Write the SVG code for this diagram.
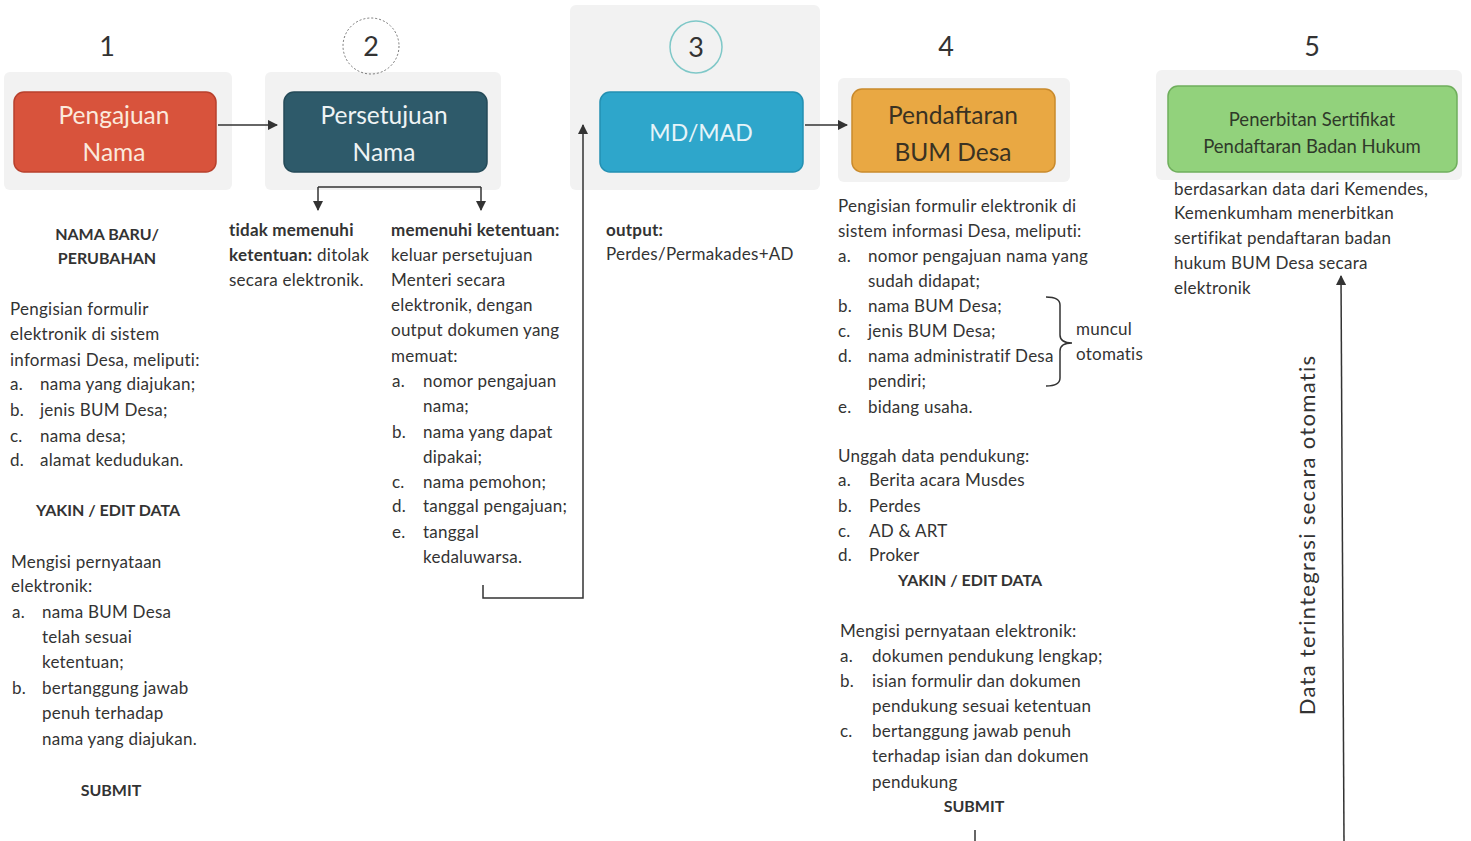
<svg xmlns="http://www.w3.org/2000/svg" width="1471" height="841" viewBox="0 0 1471 841">
<defs>
<style>
text{font-family:Lato,"Noto Sans","Liberation Sans",sans-serif;fill:#333}
.t{font-size:17px;letter-spacing:0.25px}
.b{font-size:17px;font-weight:bold;letter-spacing:0.2px}
.h{font-size:16px;font-weight:bold}
.num{font-size:27px;fill:#333}
.bx{font-size:24.5px;text-anchor:middle}
.halo{fill:#f2f2f2}
.ln{stroke:#333;stroke-width:1.5;fill:none}
</style>
<marker id="ah" viewBox="0 0 10 10" refX="9" refY="5" markerWidth="7" markerHeight="7" orient="auto-start-reverse">
<path d="M0,0 L10,5 L0,10 z" fill="#333"/>
</marker>
</defs>
<rect width="1471" height="841" fill="#fff"/>

<!-- halos -->
<rect class="halo" x="4" y="72" width="228" height="118" rx="6"/>
<rect class="halo" x="265" y="72" width="236" height="118" rx="6"/>
<rect class="halo" x="570" y="5" width="250" height="185" rx="6"/>
<rect class="halo" x="838" y="78" width="232" height="104" rx="6"/>
<rect class="halo" x="1156" y="70" width="306" height="110" rx="6"/>

<g id="node1">
<text class="num" x="107" y="56" text-anchor="middle">1</text>
<rect x="14" y="92" width="202" height="80" rx="10" fill="#d8533c" stroke="#b8402c" stroke-width="1.5"/>
<text class="bx" x="114" y="124" style="fill:#fbe9dc">Pengajuan</text>
<text class="bx" x="114" y="161" style="fill:#fbe9dc">Nama</text>
</g>

<g id="node2">
<circle cx="371" cy="46" r="28" fill="none" stroke="#777" stroke-width="1" stroke-dasharray="2 2"/>
<text class="num" x="371" y="56" text-anchor="middle">2</text>
<rect x="284" y="92" width="203" height="80" rx="10" fill="#2e5a6a" stroke="#244a58" stroke-width="1.5"/>
<text class="bx" x="384" y="124" style="fill:#eef3f4">Persetujuan</text>
<text class="bx" x="384" y="161" style="fill:#eef3f4">Nama</text>
</g>

<g id="node3">
<circle cx="696" cy="47" r="26" fill="none" stroke="#7fc8c8" stroke-width="1.5"/>
<text class="num" x="696" y="57" text-anchor="middle">3</text>
<rect x="600" y="92" width="203" height="80" rx="10" fill="#2ea6cb" stroke="#2390b2" stroke-width="1.5"/>
<text x="701" y="141" text-anchor="middle" style="font-size:23px;fill:#e6f4f9">MD/MAD</text>
</g>

<g id="node4">
<text class="num" x="946" y="56" text-anchor="middle">4</text>
<rect x="852" y="89" width="203" height="83" rx="10" fill="#e9a843" stroke="#c98a2c" stroke-width="1.5"/>
<text class="bx" x="953" y="124" style="fill:#3a3222">Pendaftaran</text>
<text class="bx" x="953" y="161" style="fill:#3a3222">BUM Desa</text>
</g>

<g id="node5">
<text class="num" x="1312" y="56" text-anchor="middle">5</text>
<rect x="1168" y="86" width="289" height="86" rx="10" fill="#92d27c" stroke="#6fae5c" stroke-width="1.5"/>
<text x="1312" y="126" text-anchor="middle" style="font-size:18.5px;fill:#2f3a2a">Penerbitan Sertifikat</text>
<text x="1312" y="153" text-anchor="middle" style="font-size:18.5px;fill:#2f3a2a">Pendaftaran Badan Hukum</text>
</g>

<g id="connectors">
<line class="ln" x1="218" y1="125" x2="277" y2="125" marker-end="url(#ah)"/>
<path class="ln" d="M318,187 H481"/>
<line class="ln" x1="318" y1="187" x2="318" y2="210" marker-end="url(#ah)"/>
<line class="ln" x1="481" y1="187" x2="481" y2="210" marker-end="url(#ah)"/>
<path class="ln" d="M483,585 V598 H583 V125" marker-end="url(#ah)"/>
<line class="ln" x1="805" y1="125" x2="847" y2="125" marker-end="url(#ah)"/>
<line class="ln" x1="1344" y1="841" x2="1341" y2="276" marker-end="url(#ah)"/>
<line class="ln" x1="975" y1="830" x2="975" y2="841"/>
<path class="ln" d="M1046,297 Q1060,297 1060,305 V335 Q1060,343 1072,343 Q1060,343 1060,351 V378 Q1060,386 1046,386"/>
</g>

<g id="col1">
<text class="h" x="107" y="240" text-anchor="middle">NAMA BARU/</text>
<text class="h" x="107" y="264" text-anchor="middle">PERUBAHAN</text>
<text class="t" x="10" y="315">Pengisian formulir</text>
<text class="t" x="10" y="340">elektronik di sistem</text>
<text class="t" x="10" y="366">informasi Desa, meliputi:</text>
<text class="t" x="10" y="390">a.</text><text class="t" x="40" y="390">nama yang diajukan;</text>
<text class="t" x="10" y="416">b.</text><text class="t" x="40" y="416">jenis BUM Desa;</text>
<text class="t" x="10" y="442">c.</text><text class="t" x="40" y="442">nama desa;</text>
<text class="t" x="10" y="466">d.</text><text class="t" x="40" y="466">alamat kedudukan.</text>
<text class="h" x="108" y="516" text-anchor="middle">YAKIN / EDIT DATA</text>
<text class="t" x="11" y="568">Mengisi pernyataan</text>
<text class="t" x="11" y="592">elektronik:</text>
<text class="t" x="12" y="618">a.</text><text class="t" x="42" y="618">nama BUM Desa</text>
<text class="t" x="42" y="643">telah sesuai</text>
<text class="t" x="42" y="668">ketentuan;</text>
<text class="t" x="12" y="694">b.</text><text class="t" x="42" y="694">bertanggung jawab</text>
<text class="t" x="42" y="719">penuh terhadap</text>
<text class="t" x="42" y="745">nama yang diajukan.</text>
<text class="h" x="111" y="796" text-anchor="middle">SUBMIT</text>
</g>

<g id="col2">
<text class="b" x="229" y="236">tidak memenuhi</text>
<text class="t" x="229" y="261"><tspan font-weight="bold">ketentuan:</tspan> ditolak</text>
<text class="t" x="229" y="286">secara elektronik.</text>
<text class="b" x="391" y="236">memenuhi ketentuan:</text>
<text class="t" x="391" y="261">keluar persetujuan</text>
<text class="t" x="391" y="286">Menteri secara</text>
<text class="t" x="391" y="311">elektronik, dengan</text>
<text class="t" x="391" y="336">output dokumen yang</text>
<text class="t" x="391" y="362">memuat:</text>
<text class="t" x="392" y="387">a.</text><text class="t" x="423" y="387">nomor pengajuan</text>
<text class="t" x="423" y="412">nama;</text>
<text class="t" x="392" y="438">b.</text><text class="t" x="423" y="438">nama yang dapat</text>
<text class="t" x="423" y="463">dipakai;</text>
<text class="t" x="392" y="488">c.</text><text class="t" x="423" y="488">nama pemohon;</text>
<text class="t" x="392" y="512">d.</text><text class="t" x="423" y="512">tanggal pengajuan;</text>
<text class="t" x="392" y="538">e.</text><text class="t" x="423" y="538">tanggal</text>
<text class="t" x="423" y="563">kedaluwarsa.</text>
</g>

<g id="col3">
<text class="b" x="606" y="236">output:</text>
<text class="t" x="606" y="260">Perdes/Permakades+AD</text>
</g>

<g id="col4">
<text class="t" x="838" y="212">Pengisian formulir elektronik di</text>
<text class="t" x="838" y="237">sistem informasi Desa, meliputi:</text>
<text class="t" x="838" y="262">a.</text><text class="t" x="868" y="262">nomor pengajuan nama yang</text>
<text class="t" x="868" y="287">sudah didapat;</text>
<text class="t" x="838" y="312">b.</text><text class="t" x="868" y="312">nama BUM Desa;</text>
<text class="t" x="838" y="337">c.</text><text class="t" x="868" y="337">jenis BUM Desa;</text>
<text class="t" x="838" y="362">d.</text><text class="t" x="868" y="362">nama administratif Desa</text>
<text class="t" x="868" y="387">pendiri;</text>
<text class="t" x="838" y="413">e.</text><text class="t" x="868" y="413">bidang usaha.</text>
<text class="t" x="1076" y="335">muncul</text>
<text class="t" x="1076" y="360">otomatis</text>
<text class="t" x="838" y="462">Unggah data pendukung:</text>
<text class="t" x="838" y="486">a.</text><text class="t" x="869" y="486">Berita acara Musdes</text>
<text class="t" x="838" y="512">b.</text><text class="t" x="869" y="512">Perdes</text>
<text class="t" x="838" y="537">c.</text><text class="t" x="869" y="537">AD &amp; ART</text>
<text class="t" x="838" y="561">d.</text><text class="t" x="869" y="561">Proker</text>
<text class="h" x="970" y="586" text-anchor="middle">YAKIN / EDIT DATA</text>
<text class="t" x="840" y="637">Mengisi pernyataan elektronik:</text>
<text class="t" x="840" y="662">a.</text><text class="t" x="872" y="662">dokumen pendukung lengkap;</text>
<text class="t" x="840" y="687">b.</text><text class="t" x="872" y="687">isian formulir dan dokumen</text>
<text class="t" x="872" y="712">pendukung sesuai ketentuan</text>
<text class="t" x="840" y="737">c.</text><text class="t" x="872" y="737">bertanggung jawab penuh</text>
<text class="t" x="872" y="762">terhadap isian  dan dokumen</text>
<text class="t" x="872" y="788">pendukung</text>
<text class="h" x="974" y="812" text-anchor="middle">SUBMIT</text>
</g>

<g id="col5">
<text class="t" x="1174" y="195">berdasarkan data dari Kemendes,</text>
<text class="t" x="1174" y="219">Kemenkumham menerbitkan</text>
<text class="t" x="1174" y="244">sertifikat pendaftaran badan</text>
<text class="t" x="1174" y="269">hukum BUM Desa secara</text>
<text class="t" x="1174" y="294">elektronik</text>
<text x="0" y="0" transform="translate(1315,535) rotate(-90)" text-anchor="middle" style="font-size:22px;letter-spacing:1.3px">Data terintegrasi secara otomatis</text>
</g>
</svg>
